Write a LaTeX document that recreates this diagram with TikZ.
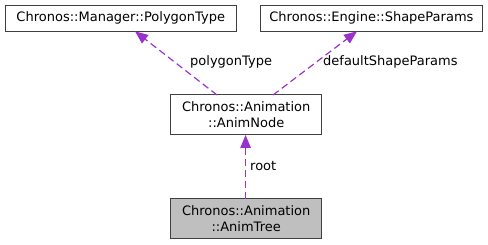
\documentclass[tikz,border=0pt]{standalone}
\usepackage{fontspec}
\setmainfont{DejaVu Sans}
\usetikzlibrary{arrows.meta}
\definecolor{edgepurple}{HTML}{9A32CD}
\definecolor{boxline}{HTML}{404040}
\definecolor{boxgrey}{HTML}{BFBFBF}
\begin{document}
\begin{tikzpicture}[x=1pt,y=-1pt,
  classbox/.style={draw=boxline,line width=1pt,fill=white,inner sep=0pt,
    font=\fontsize{13}{16}\selectfont,align=center},
  member/.style={draw=edgepurple,color=edgepurple,line width=1.2pt,dash pattern=on 7pt off 4pt,
    -{Triangle[length=13pt,width=10.5pt,fill=edgepurple]}},
  elabel/.style={font=\fontsize{13}{16}\selectfont,inner sep=0pt}]
\useasboundingbox (0,0) rectangle (488,245);
% class boxes
\node[classbox,minimum width=231.5pt,minimum height=26.5pt] (poly) at (120.75,18.3) {Chronos::Manager::PolygonType};
\node[classbox,minimum width=222.5pt,minimum height=26.5pt] (shape) at (371.4,18.3) {Chronos::Engine::ShapeParams};
\node[classbox,minimum width=151pt,minimum height=40pt] (node) at (246.2,115) {Chronos::Animation\\::AnimNode};
\node[classbox,fill=boxgrey,minimum width=151pt,minimum height=39.3pt] (tree) at (246.2,218.6) {Chronos::Animation\\::AnimTree};
% member relations
\coordinate (npa) at (217,95);
\coordinate (nsa) at (273,95);
\coordinate (pt) at (135,31.3);
\coordinate (st) at (357,31.3);
\coordinate (rs) at (245.6,198.9);
\coordinate (rt) at (245.6,135);
\draw[member] (npa) -- (pt);
\draw[member] (nsa) -- (st);
\draw[member] (rs) -- (rt);
% relation labels
\node[elabel,anchor=west] (lp) at (190,62) {polygonType};
\node[elabel,anchor=west] (ls) at (323,62) {defaultShapeParams};
\node[elabel,anchor=west] (lr) at (250,166) {root};
\end{tikzpicture}
\end{document}
